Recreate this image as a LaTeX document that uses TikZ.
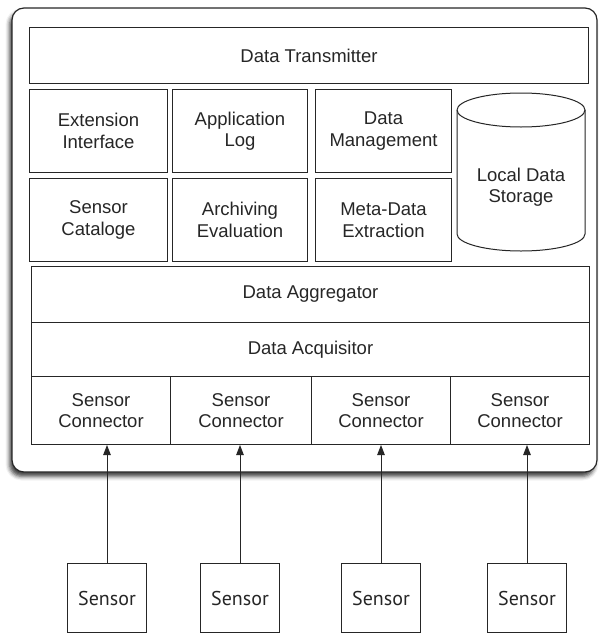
\documentclass[tikz,border=0pt]{standalone}
\usepackage{fontspec}
\setmainfont{Liberation Sans}
\newfontfamily\sensorfont{PT Sans}
\usetikzlibrary{arrows.meta,shadows.blur}
\definecolor{ink}{HTML}{262626}
\tikzset{
  lay/.style={draw=ink, line width=1pt, rectangle, inner sep=0pt, anchor=north west,
    align=center, text=ink, font=\fontsize{18.5}{21.5}\selectfont},
  sensorbox/.style={draw=ink, line width=1pt, rectangle, inner sep=0pt, anchor=north west,
    minimum width=79pt, minimum height=69pt, text=ink, font=\sensorfont\fontsize{20}{22}\selectfont},
  feed/.style={draw=ink, line width=1pt, -{Triangle[length=10pt,width=7.5pt]}}
}
\begin{document}
\begin{tikzpicture}[x=1pt,y=-1pt]
\useasboundingbox (0,0) rectangle (599,635);
% outer container
\draw[ink, line width=1.2pt, fill=white, rounded corners=12pt,
      blur shadow={shadow xshift=-2.5pt, shadow yshift=-4.5pt, shadow blur radius=4pt, shadow opacity=75}]
  (12,8) rectangle (597,472);
% top
\node[lay, minimum width=559pt, minimum height=56pt] (tx) at (29,27) {Data Transmitter};
\node[lay, minimum width=138pt, minimum height=83pt] (ext) at (29,89) {Extension\\Interface};
\node[lay, minimum width=135pt, minimum height=83pt] (log) at (172,89) {Application\\Log};
\node[lay, minimum width=136pt, minimum height=83pt] (dm) at (315,89) {Data\\Management};
\node[lay, minimum width=138pt, minimum height=83pt] (cat) at (29,178) {Sensor\\Cataloge};
\node[lay, minimum width=135pt, minimum height=83pt] (arc) at (172,178) {Archiving\\Evaluation};
\node[lay, minimum width=136pt, minimum height=83pt] (meta) at (315,178) {Meta-Data\\Extraction};
% cylinder
\draw[ink, line width=1pt, fill=white]
  (457,110) -- (457,234) arc[start angle=180, end angle=360, x radius=64pt, y radius=17pt]
  -- (585,110) arc[start angle=0, end angle=180, x radius=64pt, y radius=17pt] -- cycle;
\draw[ink, line width=1pt] (457,110) arc[start angle=180, end angle=360, x radius=64pt, y radius=17pt];
\node[text=ink, align=center, font=\fontsize{18.5}{21.5}\selectfont] (store) at (521,187) {Local Data\\Storage};
% lower layers
\node[lay, minimum width=558pt, minimum height=56pt] (agg) at (31,266) {Data Aggregator};
\node[lay, minimum width=558pt, minimum height=54pt] (acq) at (31,322) {Data Acquisitor};
\node[lay, minimum width=139pt, minimum height=68pt] (c1) at (31,376) {Sensor\\Connector};
\node[lay, minimum width=141pt, minimum height=68pt] (c2) at (170,376) {Sensor\\Connector};
\node[lay, minimum width=139pt, minimum height=68pt] (c3) at (311,376) {Sensor\\Connector};
\node[lay, minimum width=139pt, minimum height=68pt] (c4) at (450,376) {Sensor\\Connector};
% sensors
\node[sensorbox] (s1) at (67,563) {Sensor};
\node[sensorbox] (s2) at (200,563) {Sensor};
\node[sensorbox] (s3) at (341,563) {Sensor};
\node[sensorbox] (s4) at (487,563) {Sensor};
% arrows
\draw[feed] (s1.north) -- (s1.north |- c1.south);
\draw[feed] (s2.north) -- (s2.north |- c2.south);
\draw[feed] (s3.north) -- (s3.north |- c3.south);
\draw[feed] (s4.north) -- (s4.north |- c4.south);
\end{tikzpicture}
\end{document}
